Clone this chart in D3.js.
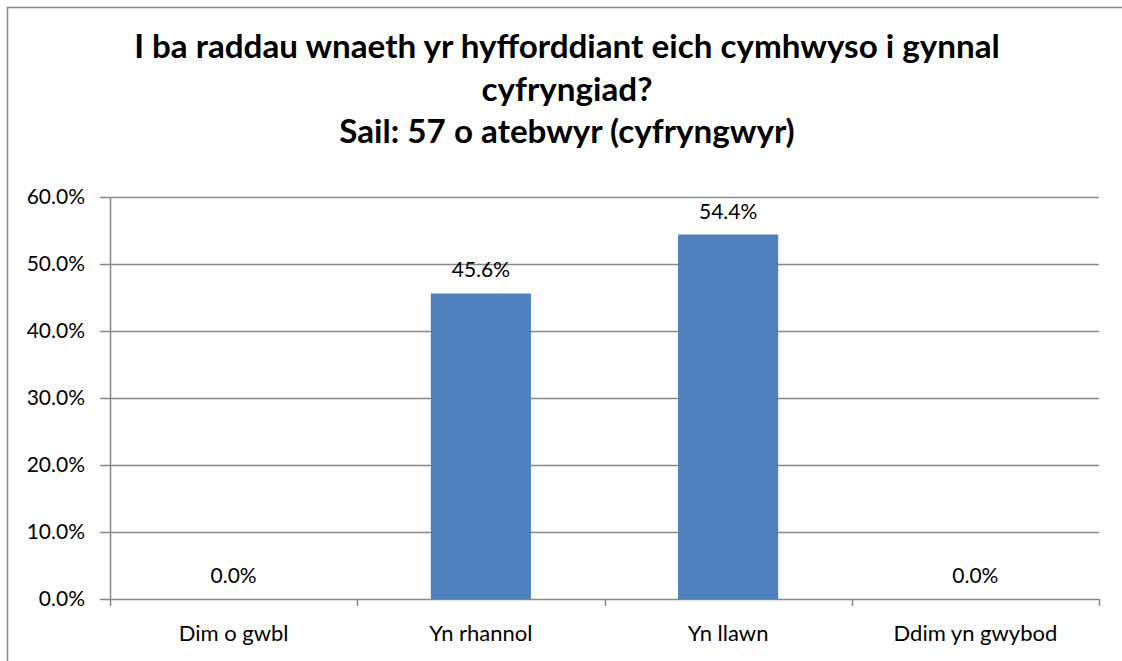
<!DOCTYPE html>
<html>
<head>
<meta charset="utf-8">
<script src="https://cdn.jsdelivr.net/npm/d3@7"></script>
<style>
  html, body { margin: 0; padding: 0; background: #fff; }
  svg { display: block; }
  text { font-family: Lato, "Open Sans", sans-serif; fill: #000; }
</style>
</head>
<body>
<svg id="chart" width="1122" height="661"></svg>
<script>
const categories = ["Dim o gwbl", "Yn rhannol", "Yn llawn", "Ddim yn gwybod"];
const values = [0.0, 45.6, 54.4, 0.0];
const yTicks = [0, 10, 20, 30, 40, 50, 60];
const titleLines = [
    "I ba raddau wnaeth yr hyfforddiant eich cymhwyso i gynnal",
    "cyfryngiad?",
    "Sail: 57 o atebwyr (cyfryngwyr)"
];

const width = 1122;
const height = 661;
const margin = { top: 197, right: 23, bottom: 62, left: 110 };
const gridColor = "#888888";
const labelSize = "21px";

const svg = d3.select("#chart");

// outer chart frame, runs off the right and bottom edge
svg.append("rect")
    .attr("x", 7.5)
    .attr("y", 7.5)
    .attr("width", width + 20)
    .attr("height", height + 20)
    .attr("fill", "none")
    .attr("stroke", gridColor)
    .attr("stroke-width", 1.5);

const title = svg.append("text")
    .attr("text-anchor", "middle")
    .style("font-weight", "bold")
    .style("font-size", "33.2px");

title.selectAll("tspan")
    .data(titleLines)
    .enter()
    .append("tspan")
    .attr("x", 567)
    .attr("y", (d, i) => 58 + i * 42.5)
    .text(d => d);

const x = d3.scaleBand()
    .domain(categories)
    .range([margin.left, width - margin.right])
    .paddingInner(0.595)
    .paddingOuter(0.2975);

const y = d3.scaleLinear()
    .domain([0, 60])
    .range([height - margin.bottom, margin.top]);

// gridlines
svg.append("g")
    .selectAll("line")
    .data(yTicks)
    .enter()
    .append("line")
    .attr("x1", margin.left - 10)
    .attr("x2", width - margin.right)
    .attr("y1", d => Math.round(y(d)) + 0.5)
    .attr("y2", d => Math.round(y(d)) + 0.5)
    .attr("stroke", gridColor)
    .attr("stroke-width", 1.5);

// y axis labels
svg.append("g")
    .selectAll("text")
    .data(yTicks)
    .enter()
    .append("text")
    .attr("x", margin.left - 25)
    .attr("y", d => y(d) + 7)
    .attr("text-anchor", "end")
    .style("font-size", labelSize)
    .text(d => d.toFixed(1) + "%");

// y axis line
svg.append("line")
    .attr("x1", margin.left + 0.5)
    .attr("x2", margin.left + 0.5)
    .attr("y1", y(60))
    .attr("y2", y(0))
    .attr("stroke", gridColor)
    .attr("stroke-width", 1.5);

// category ticks
const tickX = d3.range(categories.length + 1).map(i => margin.left + i * (width - margin.left - margin.right) / categories.length);
svg.append("g")
    .selectAll("line")
    .data(tickX)
    .enter()
    .append("line")
    .attr("x1", d => Math.round(d) + 0.5)
    .attr("x2", d => Math.round(d) + 0.5)
    .attr("y1", y(0))
    .attr("y2", y(0) + 7)
    .attr("stroke", gridColor)
    .attr("stroke-width", 1.5);

// bars
svg.append("g")
    .selectAll("rect")
    .data(values)
    .enter()
    .append("rect")
    .attr("x", (d, i) => x(categories[i]))
    .attr("y", d => y(d))
    .attr("width", x.bandwidth())
    .attr("height", d => y(0) - y(d))
    .attr("fill", "#4F81BD");

// data labels
svg.append("g")
    .selectAll("text")
    .data(values)
    .enter()
    .append("text")
    .attr("x", (d, i) => x(categories[i]) + x.bandwidth() / 2)
    .attr("y", d => y(d) - 16)
    .attr("text-anchor", "middle")
    .style("font-size", labelSize)
    .text(d => d.toFixed(1) + "%");

// category labels
svg.append("g")
    .selectAll("text")
    .data(categories)
    .enter()
    .append("text")
    .attr("x", d => x(d) + x.bandwidth() / 2)
    .attr("y", height - 20)
    .attr("text-anchor", "middle")
    .style("font-size", "22px")
    .text(d => d);
</script>
</body>
</html>
